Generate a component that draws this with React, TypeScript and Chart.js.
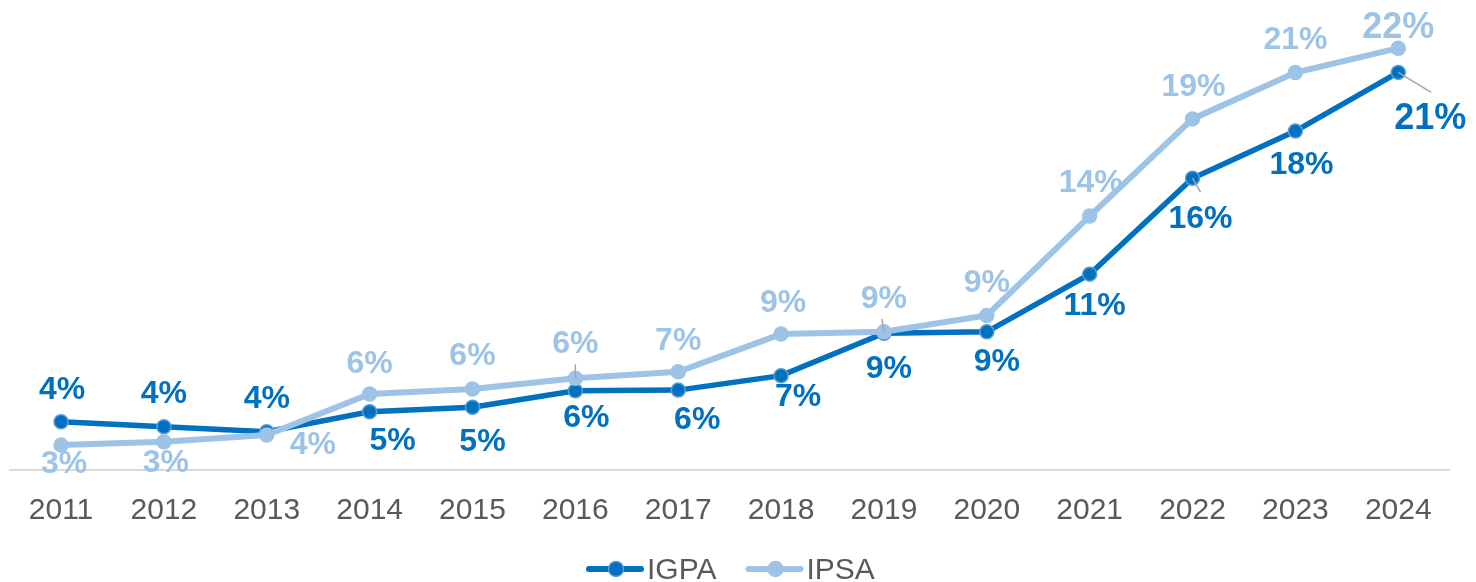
import { useEffect, useRef } from 'react';
import { Chart, registerables } from 'chart.js';

Chart.register(...registerables);

const years = ['2011', '2012', '2013', '2014', '2015', '2016', '2017', '2018', '2019', '2020', '2021', '2022', '2023', '2024'];
const igpa = [4.31, 4.07, 3.83, 4.79, 5.01, 5.81, 5.84, 6.54, 8.59, 8.66, 11.45, 16.09, 18.37, 21.21];
const ipsa = [3.18, 3.34, 3.67, 5.65, 5.89, 6.41, 6.73, 8.55, 8.66, 9.45, 14.26, 18.96, 21.2, 22.38];

// label placement offsets (relative to each point), leader lines
const igpaLabelDx = [1, 0, 0, 23, 10, 11, 19, 17, 5, 10, 5, 8, 6, 32];
const igpaLabelDy = [-34, -35, -35, 27, 32, 25, 27, 19, 33, 28, 29, 38, 31, 44];
const ipsaLabelDx = [3, 2, 46, 0, 0, 0, 0, 2, 0, 0, 1, 1, 0, 0];
const ipsaLabelDy = [16, 19, 8, -33, -36, -37, -33, -34, -35, -35, -36, -34, -35, -23];
const igpaLeaders: Record<number, [number, number]> = { 11: [8, 14], 13: [33, 20] };
const ipsaLeaders: Record<number, [number, number]> = { 5: [0, -14], 8: [-2, -13] };

const FONT = '"Liberation Sans", Arial, sans-serif';
const C_IGPA = '#0070C0';
const C_IPSA = '#9DC3E6';

const labelPlugin = {
  id: 'customLabels',
  afterDatasetsDraw(chart: any) {
    const ctx = chart.ctx;
    const specs = [
      { ds: 1, dx: igpaLabelDx, dy: igpaLabelDy, leaders: igpaLeaders, color: C_IGPA },
      { ds: 0, dx: ipsaLabelDx, dy: ipsaLabelDy, leaders: ipsaLeaders, color: C_IPSA },
    ];
    ctx.save();
    for (const s of specs) {
      const meta = chart.getDatasetMeta(s.ds);
      meta.data.forEach((pt: any, i: number) => {
        const lead = s.leaders[i];
        if (lead) {
          ctx.strokeStyle = '#A6A6A6';
          ctx.lineWidth = 1.5;
          ctx.beginPath();
          ctx.moveTo(pt.x, pt.y);
          ctx.lineTo(pt.x + lead[0], pt.y + lead[1]);
          ctx.stroke();
        }
      });
    }
    for (const s of specs) {
      const meta = chart.getDatasetMeta(s.ds);
      const values = chart.data.datasets[s.ds].data as number[];
      meta.data.forEach((pt: any, i: number) => {
        const size = i === values.length - 1 ? 36 : 32;
        ctx.font = `bold ${size}px ${FONT}`;
        ctx.fillStyle = s.color;
        ctx.textAlign = 'center';
        ctx.textBaseline = 'alphabetic';
        const cx = pt.x + s.dx[i];
        const cy = pt.y + s.dy[i];
        ctx.fillText(Math.round(values[i]) + '%', cx, cy + size * 0.36);
      });
    }
    ctx.restore();
  },
};

const legendPlugin = {
  id: 'customLegend',
  afterDraw(chart: any) {
    const ctx = chart.ctx;
    const items = [
      { name: 'IGPA', color: C_IGPA, border: '#5B9BD5', x0: 587 },
      { name: 'IPSA', color: C_IPSA, border: C_IPSA, x0: 746.5 },
    ];
    const y = 569;
    ctx.save();
    for (const it of items) {
      ctx.strokeStyle = it.color;
      ctx.lineWidth = 6;
      ctx.lineCap = 'round';
      ctx.beginPath();
      ctx.moveTo(it.x0 + 2, y);
      ctx.lineTo(it.x0 + 54, y);
      ctx.stroke();
      ctx.beginPath();
      ctx.arc(it.x0 + 29, y, 7.5, 0, Math.PI * 2);
      ctx.fillStyle = it.color;
      ctx.fill();
      ctx.lineWidth = 1.5;
      ctx.strokeStyle = it.border;
      ctx.stroke();
      ctx.font = `30px ${FONT}`;
      ctx.fillStyle = '#595959';
      ctx.textAlign = 'left';
      ctx.textBaseline = 'alphabetic';
      ctx.fillText(it.name, it.x0 + 60, 579);
    }
    ctx.restore();
  },
};

export default function App() {
  const ref = useRef<HTMLCanvasElement | null>(null);
  useEffect(() => {
    if (!ref.current) return;
    const chart = new Chart(ref.current, {
      type: 'line',
      data: {
        labels: years,
        datasets: [
          {
            label: 'IPSA',
            data: ipsa,
            borderColor: C_IPSA,
            borderWidth: 6,
            pointBackgroundColor: C_IPSA,
            pointBorderColor: C_IPSA,
            pointBorderWidth: 1.5,
            pointRadius: 7,
            tension: 0,
          },
          {
            label: 'IGPA',
            data: igpa,
            borderColor: C_IGPA,
            borderWidth: 5.5,
            pointBackgroundColor: C_IGPA,
            pointBorderColor: '#5B9BD5',
            pointBorderWidth: 1.5,
            pointRadius: 7,
            tension: 0,
          },
        ],
      },
      options: {
        animation: false,
        responsive: false,
        maintainAspectRatio: false,
        layout: { padding: { left: 9.6, right: 26.3, top: 14.7, bottom: 0 } },
        plugins: { legend: { display: false }, tooltip: { enabled: false } },
        scales: {
          x: {
            offset: true,
            grid: { display: false, drawTicks: false },
            border: { display: true, color: '#D9D9D9', width: 2 },
            ticks: {
              font: { family: FONT, size: 30 },
              color: '#595959',
              padding: 23,
              maxRotation: 0,
              autoSkip: false,
            },
            afterFit: (s: any) => {
              s.height = 112.5;
            },
          },
          y: { display: false, min: 2, max: 24 },
        },
      },
      plugins: [labelPlugin, legendPlugin],
    });
    return () => chart.destroy();
  }, []);
  return (
    <div style={{ position: 'fixed', left: 0, top: 0, width: 1476, height: 582, background: '#fff' }}>
      <canvas ref={ref} width={1476} height={582} style={{ width: 1476, height: 582, display: 'block' }} />
    </div>
  );
}
